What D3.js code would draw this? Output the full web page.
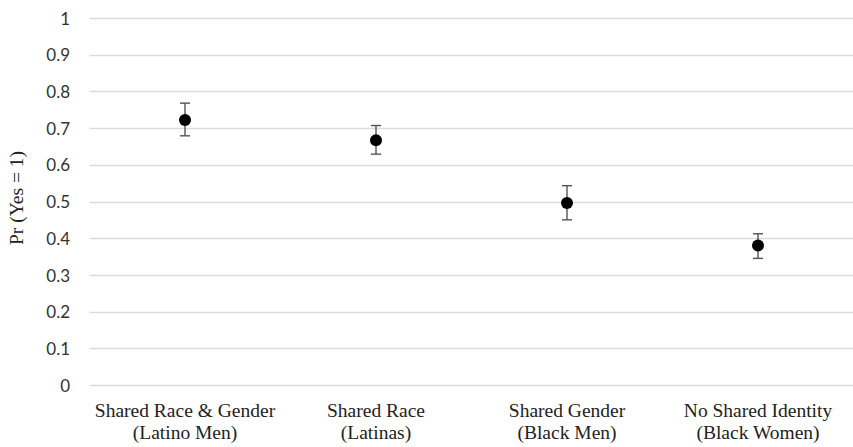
<!DOCTYPE html>
<html>
<head>
<meta charset="utf-8">
<script src="https://cdn.jsdelivr.net/npm/d3@7/dist/d3.min.js"></script>
<style>
  body { margin: 0; background: #fff; }
  svg { display: block; }
</style>
</head>
<body>
<svg id="chart" width="853" height="447"></svg>
<script>
const categoriesLine1 = ["Shared Race & Gender", "Shared Race", "Shared Gender", "No Shared Identity"];
const categoriesLine2 = ["(Latino Men)", "(Latinas)", "(Black Men)", "(Black Women)"];
const estimates = [0.722, 0.667, 0.496, 0.380];
const lowerBounds = [0.679, 0.629, 0.450, 0.345];
const upperBounds = [0.768, 0.707, 0.543, 0.412];
const yTicks = [0, 0.1, 0.2, 0.3, 0.4, 0.5, 0.6, 0.7, 0.8, 0.9, 1];
const yTickLabels = ["0", "0.1", "0.2", "0.3", "0.4", "0.5", "0.6", "0.7", "0.8", "0.9", "1"];
const yTitle = "Pr (Yes = 1)";

(function () {
const svg = d3.select("#chart");
const pLeft = 89.5, pRight = 853.5, pTop = 18, pBottom = 385;

const x = d3.scaleBand().domain(d3.range(categoriesLine1.length)).range([pLeft, pRight]);
const y = d3.scaleLinear().domain([0, 1]).range([pBottom, pTop]);

const serif = "'Liberation Serif', 'Times New Roman', serif";
const sans = "Lato, 'Open Sans', sans-serif";

// gridlines
svg.append("g").selectAll("line").data(yTicks).join("line")
  .attr("x1", pLeft).attr("x2", pRight)
  .attr("y1", d => Math.round(y(d)) + 0.5).attr("y2", d => Math.round(y(d)) + 0.5)
  .attr("stroke", "#dcdcdc").attr("stroke-width", 1.3);

// y axis labels
const yAxis = d3.axisLeft(y).tickValues(yTicks).tickFormat((d, i) => yTickLabels[i]).tickSize(0).tickPadding(0);
const yg = svg.append("g").attr("transform", `translate(${70},0)`).call(yAxis);
yg.select(".domain").remove();
yg.selectAll("text").attr("font-family", sans).attr("font-size", 17).attr("fill", "#333").attr("dy", "0.36em");

// y title
svg.append("text")
  .attr("transform", `translate(23,198) rotate(-90)`)
  .attr("text-anchor", "middle")
  .attr("font-family", serif).attr("font-size", 19.5).attr("fill", "#222")
  .text(yTitle);

// x labels
const xl = svg.append("g");
categoriesLine1.forEach((c, i) => {
  const cx = x(i) + x.bandwidth() / 2;
  const t = xl.append("text").attr("text-anchor", "middle")
    .attr("font-family", serif).attr("font-size", 19.5).attr("fill", "#222");
  t.append("tspan").attr("x", cx).attr("y", 417).text(c);
  t.append("tspan").attr("x", cx).attr("y", 439).text(categoriesLine2[i]);
});

// error bars
const eb = svg.append("g").attr("stroke", "#555").attr("stroke-width", 1.4);
estimates.forEach((v, i) => {
  const cx = x(i) + x.bandwidth() / 2;
  eb.append("line").attr("x1", cx).attr("x2", cx).attr("y1", y(lowerBounds[i])).attr("y2", y(upperBounds[i]));
  eb.append("line").attr("x1", cx - 5).attr("x2", cx + 5).attr("y1", y(lowerBounds[i])).attr("y2", y(lowerBounds[i]));
  eb.append("line").attr("x1", cx - 5).attr("x2", cx + 5).attr("y1", y(upperBounds[i])).attr("y2", y(upperBounds[i]));
});

// points
svg.append("g").selectAll("circle").data(estimates).join("circle")
  .attr("cx", (d, i) => x(i) + x.bandwidth() / 2)
  .attr("cy", d => y(d))
  .attr("r", 6)
  .attr("fill", "#000");
})();
</script>
</body>
</html>
